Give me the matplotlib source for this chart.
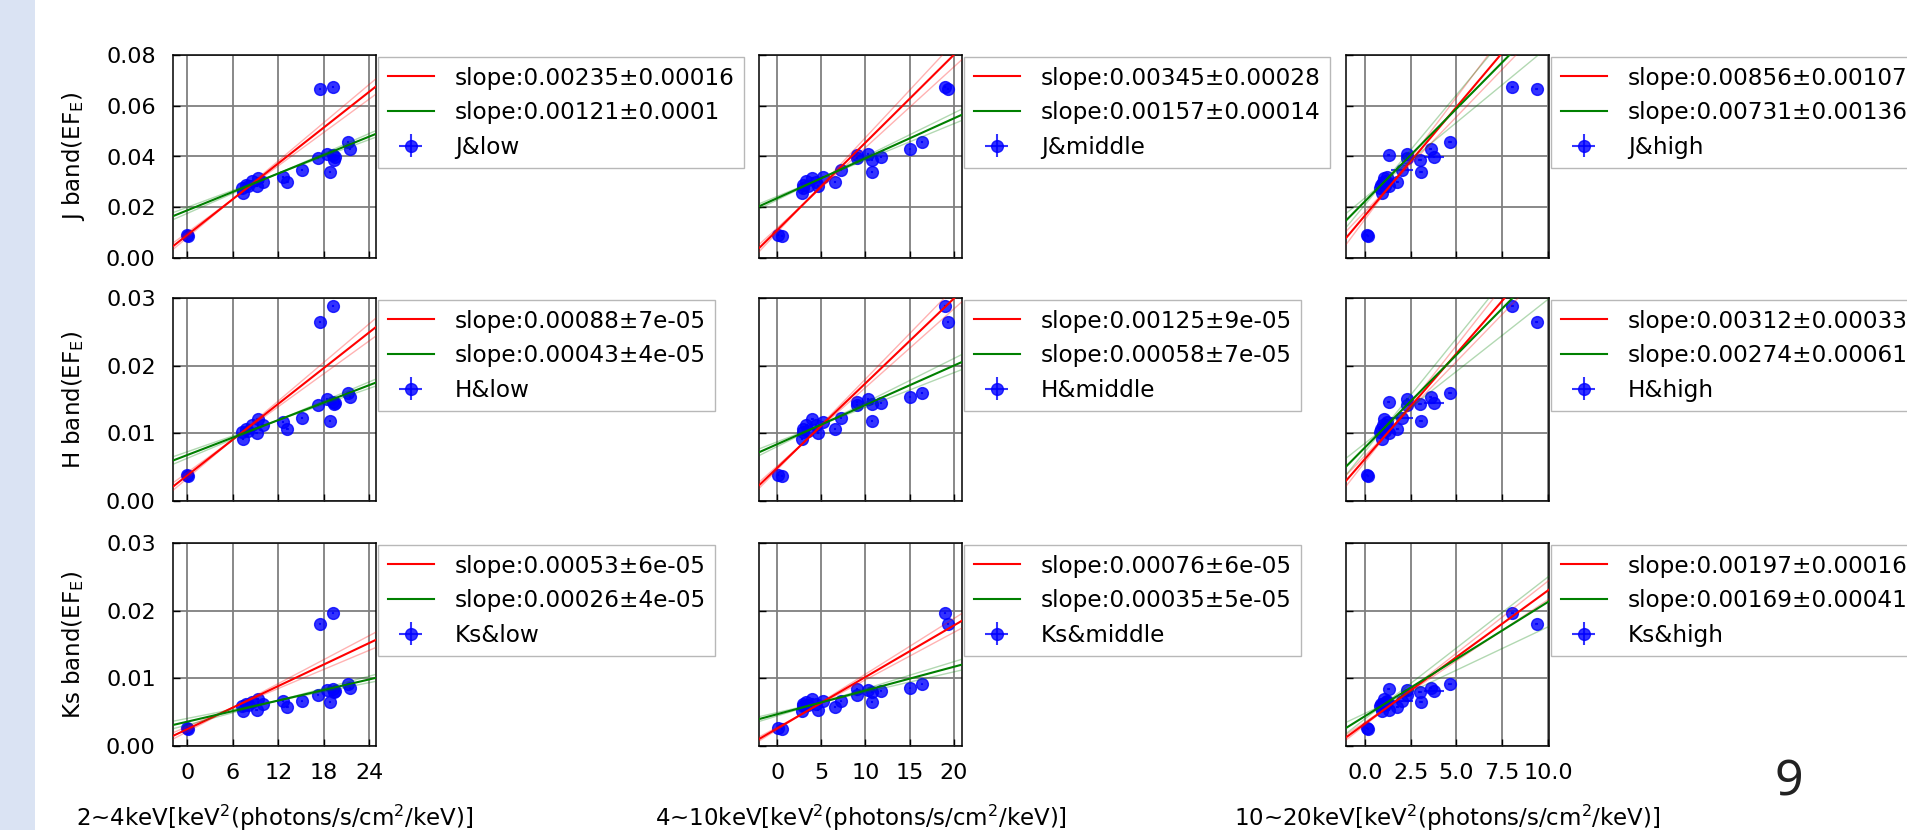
import matplotlib
matplotlib.use("Agg")
import matplotlib.pyplot as plt
from matplotlib.patches import Rectangle
import numpy as np

# ---------------- data (one entry per observation) ----------------
x_low = [0.0, 0.05, 17.5, 19.2, 7.37, 7.15, 7.8, 8.47, 9.26, 9.13, 9.93, 8.0,
         12.66, 13.2, 15.1, 17.2, 18.4, 19.2, 19.3, 19.5, 18.8, 21.2, 21.5]
x_mid = [0.11, 0.49, 19.32, 19.06, 2.82, 2.9, 2.94, 3.31, 3.99, 4.63, 4.44, 3.5,
         5.2, 6.52, 7.27, 9.08, 10.28, 9.08, 10.73, 11.79, 10.73, 16.42, 15.03]
x_high = [0.12, 0.18, 9.37, 8.04, 0.93, 0.85, 0.87, 1.14, 1.05, 1.29, 1.0, 1.1,
          1.2, 1.78, 2.02, 2.32, 2.32, 1.29, 3.0, 3.78, 3.05, 4.65, 3.59]
xerr_low = 0.15
xerr_mid = 0.12
xerr_high = [0.05, 0.05, 0.08, 0.08, 0.08, 0.08, 0.08, 0.08, 0.08, 0.08, 0.08, 0.08,
             0.08, 0.1, 0.6, 0.1, 0.1, 0.1, 0.1, 0.55, 0.1, 0.1, 0.1]

J_flux = [0.0091, 0.0088, 0.0666, 0.0675, 0.0256, 0.0276, 0.0289, 0.0302, 0.0315, 0.0282,
          0.0300, 0.0285, 0.0321, 0.0299, 0.0345, 0.0393, 0.0409, 0.0405, 0.0387, 0.0397,
          0.0338, 0.0456, 0.0429]
H_flux = [0.0039, 0.0037, 0.0264, 0.0288, 0.0091, 0.0102, 0.0106, 0.0113, 0.0121, 0.0100,
          0.0112, 0.0104, 0.0117, 0.0107, 0.0123, 0.0142, 0.0150, 0.0146, 0.0143, 0.0145,
          0.0118, 0.0159, 0.0154]
Ks_flux = [0.0026, 0.0025, 0.0181, 0.0196, 0.0051, 0.0059, 0.0062, 0.0065, 0.0069, 0.0053,
           0.0062, 0.0060, 0.0066, 0.0058, 0.0066, 0.0076, 0.0083, 0.0084, 0.0080, 0.0082,
           0.0065, 0.0091, 0.0085]
yerr_J = 0.0004
yerr_H = 0.00015
yerr_Ks = 0.00012

bands = ["J", "H", "Ks"]
energies = ["low", "middle", "high"]
xlabels = ["2~4keV[keV$^2$(photons/s/cm$^2$/keV)]",
           "4~10keV[keV$^2$(photons/s/cm$^2$/keV)]",
           "10~20keV[keV$^2$(photons/s/cm$^2$/keV)]"]
ylabels = [r"J band(EF$_\mathregular{E}$)", r"H band(EF$_\mathregular{E}$)",
           r"Ks band(EF$_\mathregular{E}$)"]

# fits: [row][col] -> (slope, err, intercept)
red_fit = [[(0.00235, 0.00016, 0.0091), (0.00345, 0.00028, 0.0110), (0.00856, 0.00107, 0.0167)],
           [(0.00088, 7e-05, 0.0038), (0.00125, 9e-05, 0.0049), (0.00312, 0.00033, 0.0062)],
           [(0.00053, 6e-05, 0.0025), (0.00076, 6e-05, 0.0026), (0.00197, 0.00016, 0.0033)]]
green_fit = [[(0.00121, 0.0001, 0.0188), (0.00157, 0.00014, 0.0236), (0.00731, 0.00136, 0.0223)],
             [(0.00043, 4e-05, 0.0068), (0.00058, 7e-05, 0.0084), (0.00274, 0.00061, 0.0079)],
             [(0.00026, 4e-05, 0.0036), (0.00035, 5e-05, 0.0047), (0.00169, 0.00041, 0.0044)]]

x_ticks = [[0, 6, 12, 18, 24], [0, 5, 10, 15, 20], [0.0, 2.5, 5.0, 7.5, 10.0]]
x_limits = [(-1.9, 24.9), (-2.07, 20.94), (-1.03, 10.05)]
y_ticks = [[0.00, 0.02, 0.04, 0.06, 0.08], [0.00, 0.01, 0.02, 0.03], [0.00, 0.01, 0.02, 0.03]]
y_limits = [(0, 0.08), (0, 0.03), (0, 0.03)]
pivot_red = [6.0, 3.0, 1.4]
pivot_green = [12.0, 5.0, 1.0]

xs = [x_low, x_mid, x_high]
xerrs = [xerr_low, xerr_mid, xerr_high]
ys = [J_flux, H_flux, Ks_flux]
yerrs = [yerr_J, yerr_H, yerr_Ks]

# ---------------- layout ----------------
W, Hpx = 1908, 830
FS = 16.5
LFS = 16.7
fig = plt.figure(figsize=(W / 100, Hpx / 100), dpi=100)
fig.patches.append(Rectangle((0, 0), 35 / W, 1, transform=fig.transFigure,
                             facecolor="#dae3f3", edgecolor="none", zorder=0))

col_left = [173, 759, 1346]
row_top = [55, 298, 543]
size = 203

for r in range(3):
    for c in range(3):
        ax = fig.add_axes([col_left[c] / W, (Hpx - row_top[r] - size) / Hpx,
                           size / W, size / Hpx])
        x = np.array(xs[c])
        y = np.array(ys[r])
        ax.errorbar(x, y, xerr=xerrs[c], yerr=yerrs[r], fmt="o", color="blue",
                    ms=8.5, alpha=0.8, elinewidth=1.5, capsize=0, zorder=2,
                    label=f"{bands[r]}&{energies[c]}")
        xl = np.array(x_limits[c])
        handles = []
        for fit, col, piv in ((red_fit[r][c], "red", pivot_red[c]),
                              (green_fit[r][c], "green", pivot_green[c])):
            s, e, b = fit
            ln, = ax.plot(xl, b + s * xl, color=col, lw=1.5, zorder=3,
                          label=f"slope:{s}\u00b1{e}")
            y0 = b + s * piv
            for sg in (s + e, s - e):
                ax.plot(xl, y0 + sg * (xl - piv), color=col, lw=1.0, alpha=0.3, zorder=3)
            handles.append(ln)
        h_all, l_all = ax.get_legend_handles_labels()
        eb = [h for h, l in zip(h_all, l_all) if "&" in l][0]
        handles.append(eb)
        ax.legend(handles=handles, loc="upper left", bbox_to_anchor=(1.0, 1.0),
                  borderaxespad=0.1, fontsize=LFS, fancybox=False,
                  edgecolor="0.65", framealpha=0.8, handlelength=2.0,
                  handletextpad=0.9, labelspacing=0.5, borderpad=0.4)

        ax.set_xlim(*x_limits[c])
        ax.set_ylim(*y_limits[r])
        ax.set_xticks(x_ticks[c])
        ax.set_yticks(y_ticks[r])
        ax.grid(True, color="#7f7f7f", lw=1.3, zorder=0)
        ax.set_axisbelow(True)
        for sp in ax.spines.values():
            sp.set_linewidth(1.1)
        ax.tick_params(direction="in", length=5, width=1, labelsize=FS - 0.5, pad=12.5)
        if r < 2:
            ax.tick_params(labelbottom=False)
        else:
            ax.set_xlabel(xlabels[c], fontsize=FS)
            ax.xaxis.label.set_va("center")
            ax.xaxis.set_label_coords(0.5, -0.355)
        if c == 0:
            ax.set_ylabel(ylabels[r], fontsize=FS)
            ax.yaxis.label.set_va("center")
            ax.yaxis.set_label_coords(-0.49, 0.5)
        else:
            ax.tick_params(labelleft=False)

fig.text(1789 / W, 1 - 782 / Hpx, "9", fontsize=36, ha="center", va="center",
         family="Noto Sans", fontweight="light", color="#222222")

fig.savefig("out.png", dpi=100)
